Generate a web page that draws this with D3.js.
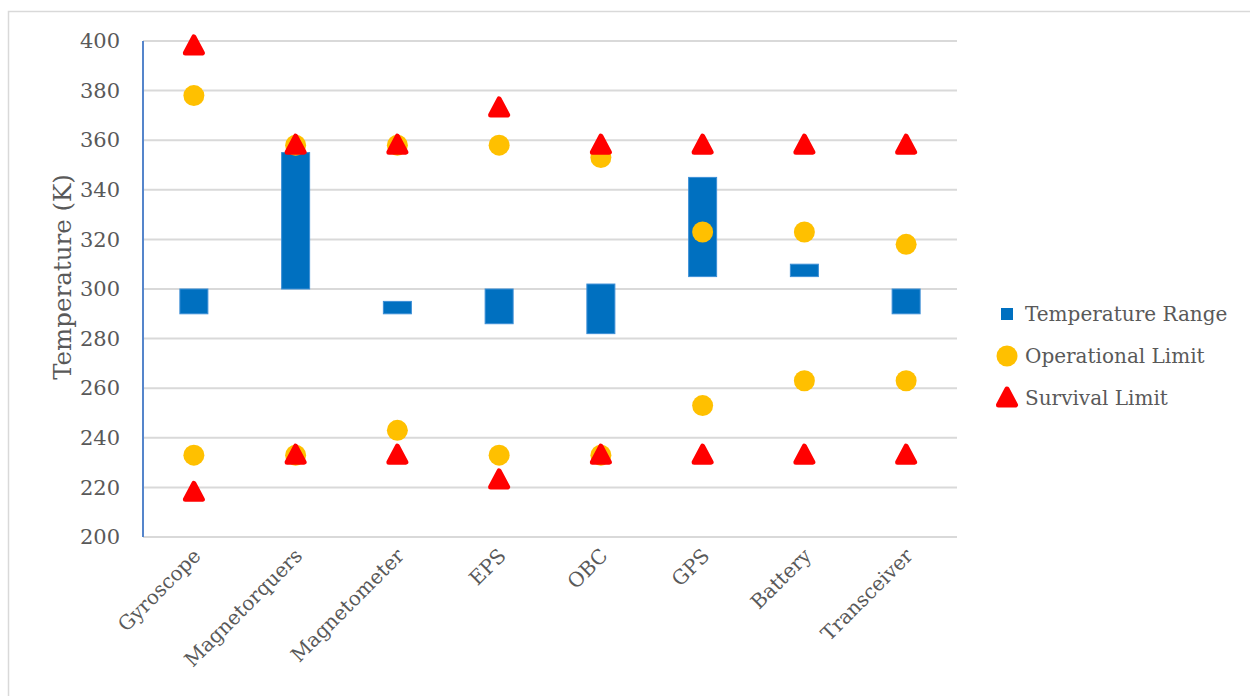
<!DOCTYPE html>
<html>
<head>
<meta charset="utf-8">
<script src="https://cdn.jsdelivr.net/npm/d3@7"></script>
<style>
  html, body { margin: 0; padding: 0; background: #fff; }
  svg text { font-family: "DejaVu Serif", "Liberation Serif", serif; fill: #595959; }
</style>
</head>
<body>
<svg id="chart" width="1250" height="696"></svg>
<script>
// Component thermal data (Kelvin)
const categories = ["Gyroscope", "Magnetorquers", "Magnetometer", "EPS", "OBC", "GPS", "Battery", "Transceiver"];
const rangeLow  = [290, 300, 290, 286, 282, 305, 305, 290];
const rangeHigh = [300, 355, 295, 300, 302, 345, 310, 300];
const opMin   = [233, 233, 243, 233, 233, 253, 263, 263];
const opMax   = [378, 358, 358, 358, 353, 323, 323, 318];
const survMin = [218, 233, 233, 223, 233, 233, 233, 233];
const survMax = [398, 358, 358, 373, 358, 358, 358, 358];
const yTicks = [200, 220, 240, 260, 280, 300, 320, 340, 360, 380, 400];
const seriesNames = ["Temperature Range", "Operational Limit", "Survival Limit"];

const colors = { bar: "#0070C0", op: "#FFC000", surv: "#FF0000" };

const svg = d3.select("#chart");

// outer chart frame
svg.append("rect")
  .attr("x", 8.5).attr("y", 11.5)
  .attr("width", 1260).attr("height", 700)
  .attr("fill", "none").attr("stroke", "#d9d9d9").attr("stroke-width", 1.5);

const plot = { left: 143, right: 957, top: 41, bottom: 537 };

const x = d3.scaleBand().domain(categories).range([plot.left, plot.right]).padding(0);
const y = d3.scaleLinear().domain([200, 400]).range([plot.bottom, plot.top]);

// gridlines
svg.append("g")
  .selectAll("line").data(yTicks).join("line")
  .attr("x1", plot.left).attr("x2", plot.right)
  .attr("y1", d => y(d)).attr("y2", d => y(d))
  .attr("stroke", "#d9d9d9").attr("stroke-width", 2);

// y axis labels
const yAxis = d3.axisLeft(y).tickValues(yTicks).tickSize(0).tickPadding(23);
const yg = svg.append("g").attr("transform", `translate(${plot.left},0)`).call(yAxis);
yg.select(".domain").remove();
yg.selectAll("text")
  .attr("font-size", 21)
  .style("font-family", '"DejaVu Serif", serif')
  .attr("fill", "#595959");

// y axis line
svg.append("line")
  .attr("x1", plot.left).attr("x2", plot.left)
  .attr("y1", plot.top).attr("y2", plot.bottom)
  .attr("stroke", "#5585cb").attr("stroke-width", 2);

// y axis title
svg.append("text")
  .attr("transform", `translate(71,${(plot.top + plot.bottom) / 2 - 12}) rotate(-90)`)
  .attr("text-anchor", "middle")
  .attr("font-size", 24.5)
  .text("Temperature (K)");

// x category labels
const xg = svg.append("g");
xg.selectAll("text").data(categories).join("text")
  .attr("transform", d => `translate(${x(d) + x.bandwidth() / 2 + 8},${plot.bottom + 20}) rotate(-45)`)
  .attr("text-anchor", "end")
  .attr("font-size", 20)
  .text(d => d);

// floating range bars
const barW = 28;
svg.append("g").selectAll("rect").data(categories).join("rect")
  .attr("x", d => x(d) + x.bandwidth() / 2 - barW / 2)
  .attr("width", barW)
  .attr("y", (d, i) => y(rangeHigh[i]))
  .attr("height", (d, i) => y(rangeLow[i]) - y(rangeHigh[i]))
  .attr("fill", colors.bar)
  .attr("stroke", "#3d8fd6").attr("stroke-width", 1);

// operational limits (circles)
const opPts = categories.flatMap((c, i) => [{ c, v: opMax[i] }, { c, v: opMin[i] }]);
svg.append("g").selectAll("circle").data(opPts).join("circle")
  .attr("cx", d => x(d.c) + x.bandwidth() / 2)
  .attr("cy", d => y(d.v))
  .attr("r", 10.5)
  .attr("fill", colors.op);

// survival limits (rounded triangles)
function triPath(cx, cy) {
  const w = 17, h = 16;
  return `M${cx},${cy - h / 2 - 1}L${cx + w / 2},${cy + h / 2 - 1}L${cx - w / 2},${cy + h / 2 - 1}Z`;
}
const survPts = categories.flatMap((c, i) => [{ c, v: survMax[i] }, { c, v: survMin[i] }]);
svg.append("g").selectAll("path").data(survPts).join("path")
  .attr("d", d => triPath(x(d.c) + x.bandwidth() / 2, y(d.v)))
  .attr("fill", colors.surv)
  .attr("stroke", colors.surv).attr("stroke-width", 5).attr("stroke-linejoin", "round");

// legend
const lg = svg.append("g");
const lx = 1007, ly0 = 314, ldy = 42;
lg.append("rect").attr("x", lx - 6).attr("y", ly0 - 6).attr("width", 12).attr("height", 12).attr("fill", colors.bar);
lg.append("circle").attr("cx", lx).attr("cy", ly0 + ldy).attr("r", 10.5).attr("fill", colors.op);
lg.append("path").attr("d", triPath(lx, ly0 + 2 * ldy))
  .attr("fill", colors.surv).attr("stroke", colors.surv).attr("stroke-width", 5).attr("stroke-linejoin", "round");
lg.selectAll("text").data(seriesNames).join("text")
  .attr("x", 1025)
  .attr("y", (d, i) => ly0 + i * ldy)
  .attr("dy", "0.35em")
  .attr("font-size", 20)
  .text(d => d);
</script>
</body>
</html>
